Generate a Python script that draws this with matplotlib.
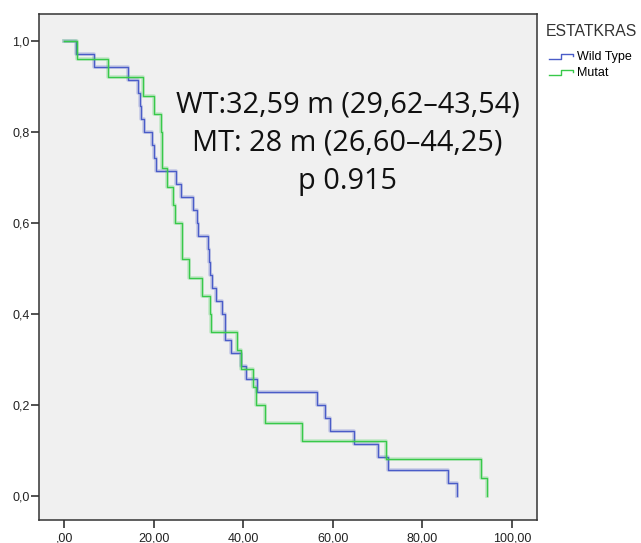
import matplotlib
matplotlib.use("Agg")
import matplotlib.pyplot as plt
from matplotlib.lines import Line2D
from matplotlib.legend_handler import HandlerBase
import numpy as np

# event times (months), no censoring
wt_times = [2.6, 6.7, 14.3, 16.5, 16.9, 17.1, 17.9, 19.6, 20.1, 20.5,
            25.0, 26.0, 28.8, 29.6, 29.8, 32.2, 32.4, 32.59, 33.1, 34.0,
            35.3, 35.8, 35.9, 37.2, 39.5, 40.6, 43.0, 56.5, 58.2, 59.3,
            64.7, 70.1, 72.3, 85.7, 87.6]
mt_times = [2.9, 9.85, 17.6, 20.0, 21.6, 21.9, 21.9, 22.9, 24.2, 24.8,
            26.2, 26.4, 27.9, 30.7, 32.5, 32.8, 38.7, 39.5, 42.1, 42.8,
            44.8, 53.2, 71.8, 93.0, 94.5]

groups = ["Wild Type", "Mutat"]
colors = ["#4a5cc8", "#38c94a"]

x_ticks = [0, 20, 40, 60, 80, 100]
x_labels = [",00", "20,00", "40,00", "60,00", "80,00", "100,00"]
y_ticks = [0.0, 0.2, 0.4, 0.6, 0.8, 1.0]
y_labels = ["0,0", "0,2", "0,4", "0,6", "0,8", "1,0"]

notes = ["WT:32,59 m (29,62\u201343,54)", "MT: 28 m (26,60\u201344,25)", "p 0.915"]


def kaplan_meier(times):
    times = np.sort(np.asarray(times, dtype=float))
    n = len(times)
    t_out, s_out = [0.0], [1.0]
    s = 1.0
    at_risk = n
    for t in np.unique(times):
        d = np.sum(times == t)
        s *= 1 - d / at_risk
        at_risk -= d
        t_out.append(t)
        s_out.append(s)
    return np.array(t_out), np.array(s_out)


class StepHandler(HandlerBase):
    def create_artists(self, legend, orig_handle, xdescent, ydescent,
                       width, height, fontsize, trans):
        xs = np.array([0.0, 0.45, 0.45, 0.88, 0.88]) * width - xdescent
        ys = np.array([0.15, 0.15, 0.7, 0.7, 0.45]) * height - ydescent
        line = Line2D(xs, ys, color=orig_handle.get_color(), lw=1.0)
        line.set_transform(trans)
        return [line]


plt.rcParams["font.family"] = ["Liberation Sans", "DejaVu Sans"]

fig = plt.figure(figsize=(6.41, 5.43), dpi=100)
ax = fig.add_axes([0.0613, 0.0424, 0.776, 0.9313])
ax.set_facecolor("#f0f0f0")

handles = []
for times, name, c in zip([wt_times, mt_times], groups, colors):
    t, s = kaplan_meier(times)
    ax.step(t, s, where="post", color=c, lw=2.6, alpha=0.25)
    h, = ax.step(t, s, where="post", color=c, lw=1.0, label=name)
    handles.append(h)

ax.set_xlim(-5.55, 105.5)
ax.set_ylim(-0.053, 1.059)
ax.set_xticks(x_ticks)
ax.set_xticklabels(x_labels)
ax.set_yticks(y_ticks)
ax.set_yticklabels(y_labels)
ax.tick_params(direction="out", length=6, width=1.1, labelsize=9,
               colors="#222222")
ax.tick_params(axis="y", pad=1)
ax.tick_params(axis="x", pad=3)
for sp in ax.spines.values():
    sp.set_color("#333333")
    sp.set_linewidth(1.1)

for i, txt in enumerate(notes):
    ax.text(0.62, 0.8215 - i * 0.0765, txt, transform=ax.transAxes,
            ha="center", va="center", fontsize=20.8, family="Open Sans",
            color="#111111")

fig.text(0.852, 0.9416, "ESTATKRAS", ha="left", va="center",
         fontsize=11.3, color="#333333")
leg = fig.legend(handles=handles, labels=groups, loc="upper left",
                 bbox_to_anchor=(0.857, 0.906), frameon=False, fontsize=9,
                 handler_map={Line2D: StepHandler()},
                 handlelength=2.15, handletextpad=0.05, labelspacing=0.35,
                 borderpad=0, borderaxespad=0)

fig.savefig("out.png", dpi=100, facecolor="white")
